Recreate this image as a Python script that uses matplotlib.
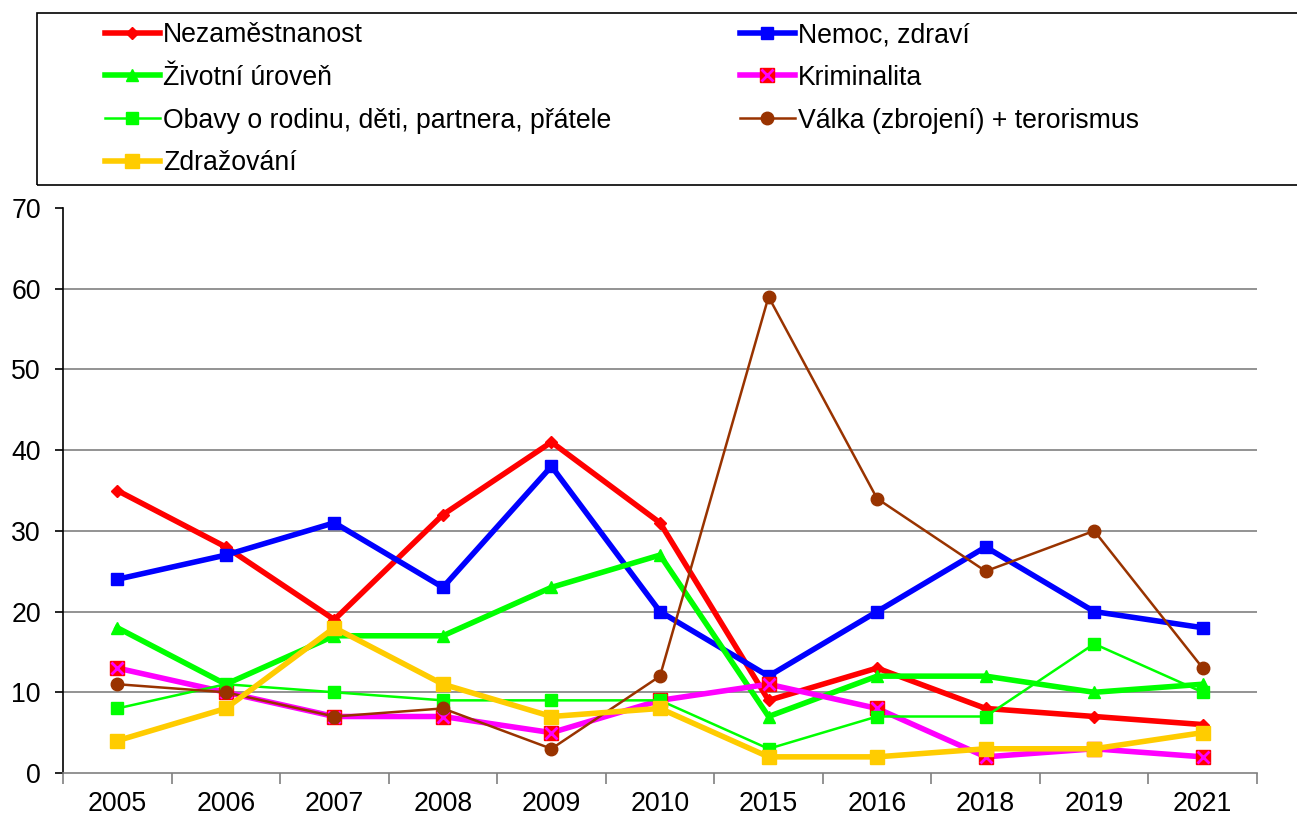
import matplotlib
matplotlib.use("Agg")
import matplotlib.pyplot as plt
from matplotlib.patches import Rectangle

plt.rcParams['font.family'] = ['Liberation Sans', 'DejaVu Sans']

years = ["2005", "2006", "2007", "2008", "2009", "2010", "2015", "2016", "2018", "2019", "2021"]
nezamestnanost = [35, 28, 19, 32, 41, 31, 9, 13, 8, 7, 6]
nemoc = [24, 27, 31, 23, 38, 20, 12, 20, 28, 20, 18]
zivotni = [18, 11, 17, 17, 23, 27, 7, 12, 12, 10, 11]
kriminalita = [13, 10, 7, 7, 5, 9, 11, 8, 2, 3, 2]
obavy = [8, 11, 10, 9, 9, 9, 3, 7, 7, 16, 10]
valka = [11, 10, 7, 8, 3, 12, 59, 34, 25, 30, 13]
zdrazovani = [4, 8, 18, 11, 7, 8, 2, 2, 3, 3, 5]

labels = ["Nezaměstnanost", "Nemoc, zdraví", "Životní úroveň", "Kriminalita",
          "Obavy o rodinu, děti, partnera, přátele", "Válka (zbrojení) + terorismus",
          "Zdražování"]

FS = 19.2
W, H = 1297, 814
fig = plt.figure(figsize=(W / 100, H / 100), dpi=100)
ax = fig.add_axes([63 / W, 1 - 773 / H, (1257 - 63) / W, (773 - 208) / H])

x = list(range(len(years)))

h_nez, = ax.plot(x, nezamestnanost, color='#FF0000', lw=4, marker='D', ms=6, zorder=3)
h_nem, = ax.plot(x, nemoc, color='#0000FF', lw=4, marker='s', ms=9, zorder=3)
h_ziv, = ax.plot(x, zivotni, color='#00FF00', lw=4, marker='^', ms=9, zorder=3)
h_kri, = ax.plot(x, kriminalita, color='#FF00FF', lw=4, marker='s', ms=10,
                 markerfacecolor='#FF0000', markeredgecolor='#FF0000', zorder=3)
h_kri2, = ax.plot(x, kriminalita, ls='none', marker='x', ms=8, mew=2,
                  color='#FF00FF', zorder=3)
h_oba, = ax.plot(x, obavy, color='#00FF00', lw=1.8, marker='s', ms=9, zorder=3)
h_val, = ax.plot(x, valka, color='#993300', lw=1.8, marker='o', ms=9, zorder=3)
h_zdr, = ax.plot(x, zdrazovani, color='#FFCC00', lw=4, marker='s', ms=10, zorder=3)

ax.set_xlim(-0.5, len(years) - 0.5)
ax.set_ylim(0, 70)
ax.set_yticks(range(0, 71, 10))
ax.set_xticks(x)
ax.set_xticklabels(years)
ax.set_xticks([i - 0.5 for i in range(len(years) + 1)], minor=True)
ax.tick_params(axis='x', which='major', length=0, labelsize=FS, pad=13)
ax.tick_params(axis='x', which='minor', length=8, color='#808080', width=1.2)
ax.tick_params(axis='y', length=6, width=1.2, labelsize=FS, pad=10)

for v in range(10, 70, 10):
    ax.axhline(v, color='#808080', lw=1.2, zorder=1)

ax.spines['top'].set_visible(False)
ax.spines['right'].set_visible(False)
ax.spines['left'].set_color('black')
ax.spines['left'].set_linewidth(1.2)
ax.spines['bottom'].set_color('#808080')
ax.spines['bottom'].set_linewidth(1.2)

# legend box
fig.add_artist(Rectangle((37 / W, 1 - 185 / H), (1320 - 37) / W, (185 - 13) / H,
                         transform=fig.transFigure, fill=False, edgecolor='black',
                         lw=1.2, clip_on=False))

common = dict(loc='upper left', fontsize=FS, handlelength=2.05, handletextpad=0.12,
              frameon=False, borderaxespad=0, borderpad=0, labelspacing=0.63)
fig.legend([h_nez, h_ziv, h_oba, h_zdr], [labels[0], labels[2], labels[4], labels[6]],
           bbox_to_anchor=(105 / W, 1 - 22 / H), **common)
fig.legend([h_nem, (h_kri, h_kri2), h_val], [labels[1], labels[3], labels[5]],
           bbox_to_anchor=(740 / W, 1 - 22 / H), **common)

fig.savefig("out.png", dpi=100)
